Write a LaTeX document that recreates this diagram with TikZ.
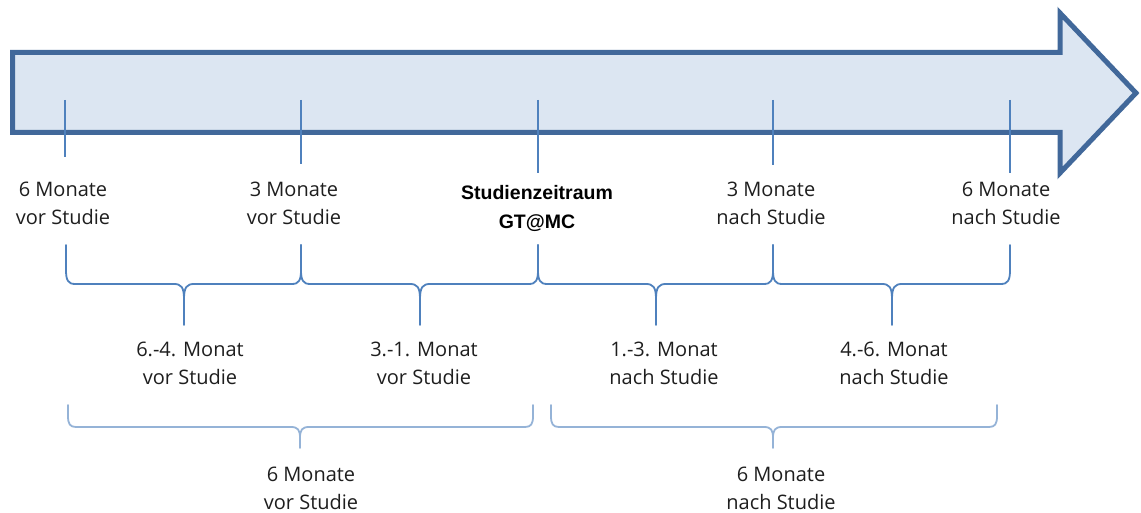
\documentclass[tikz,border=0pt]{standalone}
\usepackage{fontspec}
\setmainfont{Open Sans}
\newfontfamily\boldlab{Liberation Sans}
\definecolor{arrowline}{HTML}{41689A}
\definecolor{arrowfill}{HTML}{DCE6F2}
\definecolor{tickcol}{HTML}{4F81BD}
\definecolor{bracelight}{HTML}{95B3D7}
\definecolor{txt}{HTML}{1E1E1E}
\tikzset{
  lab/.style={inner sep=0pt, outer sep=0pt, align=center, text=txt, anchor=north,
    font=\fontsize{20}{28}\selectfont},
  boldtxt/.style={inner sep=0pt, outer sep=0pt, align=center, text=black, anchor=north,
    font=\boldlab\bfseries\fontsize{19.5}{29}\selectfont},
  tickline/.style={draw=tickcol, line width=1.5pt},
  bracedark/.style={draw=tickcol, line width=1.8pt},
  bracelite/.style={draw=bracelight, line width=1.8pt},
}
\begin{document}
\begin{tikzpicture}[x=1pt,y=-1pt]
\useasboundingbox (0,0) rectangle (1141,513);
% big arrow
\draw[draw=arrowline, fill=arrowfill, line width=5pt, line join=miter]
  (12.5,52.5) -- (1060,52.5) -- (1060,13) -- (1136,93) -- (1060,173) -- (1060,132.5) -- (12.5,132.5) -- cycle;
% ticks
\coordinate (t1) at (65,100);  \coordinate (b1) at (65,157);
\coordinate (t2) at (301,100); \coordinate (b2) at (301,164);
\coordinate (t3) at (538,100); \coordinate (b3) at (538,173);
\coordinate (t4) at (773,100); \coordinate (b4) at (773,165);
\coordinate (t5) at (1010,100);\coordinate (b5) at (1010,173);
\foreach \i in {1,...,5} \draw[tickline] (t\i) -- (b\i);
% upper labels
\node[lab] (l1) at (63,182) {6 Monate\\vor Studie};
\node[lab] (l2) at (294,182) {3 Monate\\vor Studie};
\node[boldtxt] (l3) at (537,185) {Studienzeitraum\\GT@MC};
\node[lab] (l4) at (771,182) {3 Monate\\nach Studie};
\node[lab] (l5) at (1006,182) {6 Monate\\nach Studie};
% first row braces
\foreach \a/\m/\b in {66/184/301, 301/420/538, 538/656/773, 773/892/1010}{
  \draw[bracedark, line cap=round] (\a,245) -- (\a,270) .. controls (\a,280) and (\a+2,284) .. (\a+9,284)
     -- (\m-10,284) .. controls (\m-3,284) and (\m,287) .. (\m,299) -- (\m,325);
  \draw[bracedark, line cap=round] (\b,245) -- (\b,270) .. controls (\b,280) and (\b-2,284) .. (\b-9,284)
     -- (\m+10,284) .. controls (\m+3,284) and (\m,287) .. (\m,299);
}
% middle labels
\node[lab] (m1) at (190,342) {6.-4. Monat\\vor Studie};
\node[lab] (m2) at (424,342) {3.-1. Monat\\vor Studie};
\node[lab] (m3) at (664,342) {1.-3. Monat\\nach Studie};
\node[lab] (m4) at (894,342) {4.-6. Monat\\nach Studie};
% second row braces
\foreach \a/\m/\b in {68/300/533, 551/773/997}{
  \draw[bracelite, line cap=round] (\a,405) -- (\a,416) .. controls (\a,424) and (\a+2,427) .. (\a+8,427)
     -- (\m-9,427) .. controls (\m-2,427) and (\m,430) .. (\m,438) -- (\m,448);
  \draw[bracelite, line cap=round] (\b,405) -- (\b,416) .. controls (\b,424) and (\b-2,427) .. (\b-8,427)
     -- (\m+9,427) .. controls (\m+2,427) and (\m,430) .. (\m,438);
}
% bottom labels
\node[lab] (n1) at (311,467) {6 Monate\\vor Studie};
\node[lab] (n2) at (781,467) {6 Monate\\nach Studie};
\end{tikzpicture}
\end{document}
